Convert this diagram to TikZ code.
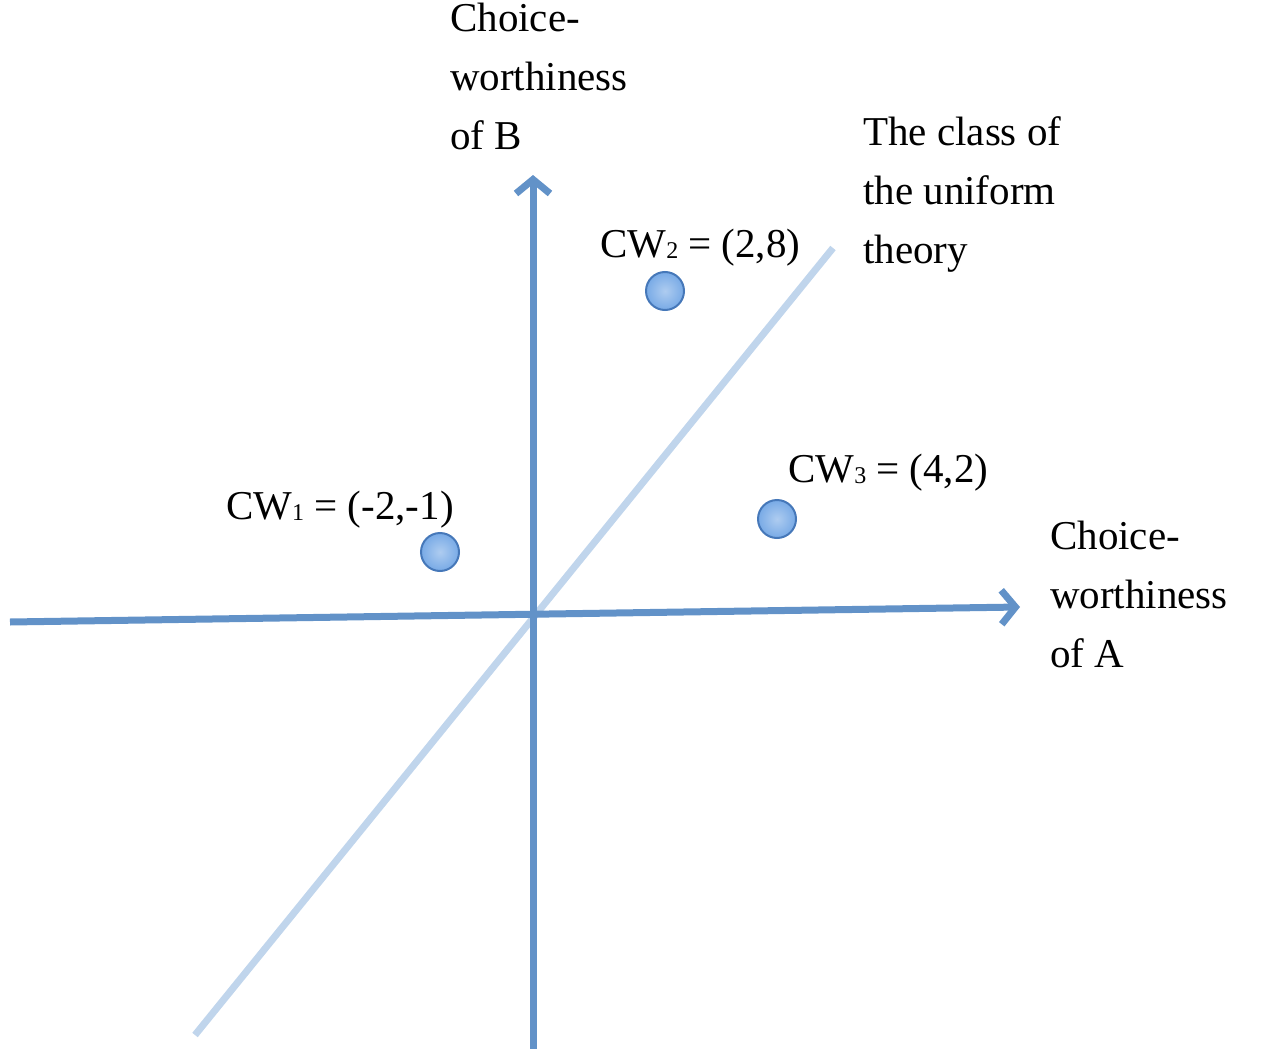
\documentclass[tikz,border=0pt]{standalone}
\usepackage{fontspec}
\setmainfont{Liberation Serif}
\usetikzlibrary{arrows.meta}
\definecolor{axis}{RGB}{98,146,200}
\definecolor{diag}{RGB}{192,213,236}
\definecolor{dotc}{RGB}{120,170,230}
\definecolor{dotd}{RGB}{70,120,185}
\newcommand{\mysub}[1]{\raisebox{-1pt}{\fontsize{24}{24}\selectfont #1}}
\tikzset{
 lbl/.style={anchor=north west,inner sep=0pt,align=left,font=\fontsize{41}{59}\selectfont},
 ax/.style={line width=7pt,draw=axis,-{Straight Barb[length=14pt,width=34pt,line width=7pt]}},
 pt/.style={circle,minimum size=38pt,inner sep=0pt,shading=radial,inner color=dotc!60,outer color=dotc,draw=dotd,line width=2pt}
}
\begin{document}
\begin{tikzpicture}[x=1pt,y=-1pt]
\useasboundingbox (0,0) rectangle (1283,1049);
\coordinate (d1) at (195,1035); \coordinate (d2) at (833,248);
\draw[diag,line width=7pt] (d1) -- (d2);
\coordinate (h1) at (10,622); \coordinate (h2) at (1020,607);
\coordinate (v1) at (533,1049); \coordinate (v2) at (533,175);
\draw[ax] (h1) -- (h2);
\draw[ax] (v1) -- (v2);
\node[pt] (p1) at (440,552) {};
\node[pt] (p2) at (665,291) {};
\node[pt] (p3) at (777,519) {};
\node[lbl] (lb) at (450,3) {Choice-\\worthiness\\of B};
\node[lbl] (lu) at (863,116) {The class of\\the uniform\\theory};
\node[lbl] (la) at (1050,521) {Choice-\\worthiness\\of A};
\node[lbl] (l1) at (226,491) {CW\mysub{1} = (-2,-1)};
\node[lbl] (l2) at (600,229) {CW\mysub{2} = (2,8)};
\node[lbl] (l3) at (788,454) {CW\mysub{3} = (4,2)};
\end{tikzpicture}
\end{document}
